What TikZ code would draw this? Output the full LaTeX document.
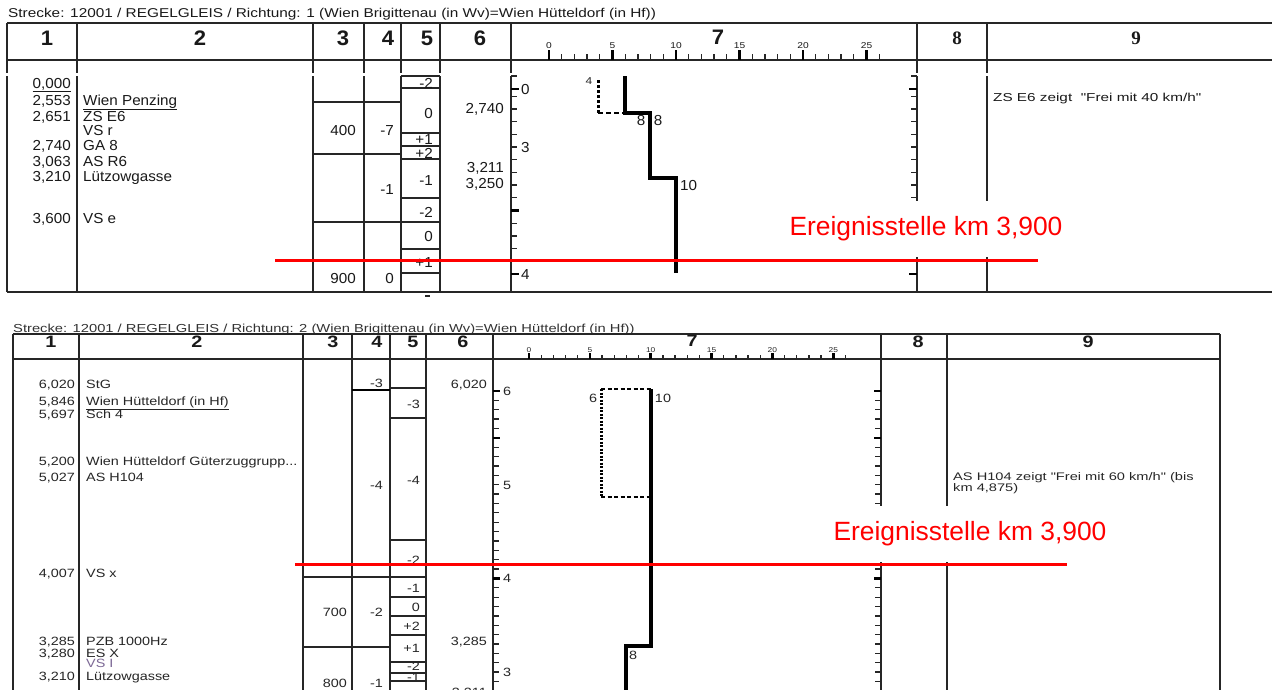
\documentclass[tikz,border=0pt]{standalone}
\usepackage{graphicx}
\usepackage{fontspec}
\setmainfont{Liberation Sans}
\newfontfamily\fa[FakeStretch=1.05]{Liberation Sans}
\newfontfamily\fb[FakeStretch=1.2]{Liberation Sans}
\newfontfamily\fc[FakeStretch=1.27]{Liberation Sans}
\newfontfamily\fd[FakeStretch=1.33]{Liberation Sans}
\newfontfamily\fser{Liberation Serif}
\begin{document}
\begin{tikzpicture}[x=1pt,y=-1pt,
  tbl/.style={line width=1.8pt,black!85},
  tk/.style={line width=1.3pt,black!85},
  tkb/.style={line width=2.6pt,black},
  prof/.style={line width=3.2pt,black},
  redline/.style={red,line width=3pt},
  redlab/.style={fill=white,text=red,inner xsep=8pt,inner ysep=16pt,font=\fontsize{26.4}{28}\selectfont},
  ra/.style={anchor=base east,inner sep=0pt,text=black!90,font=\fa\fontsize{14.5}{16}\selectfont,yshift=-5.2pt},
  la/.style={anchor=base west,inner sep=0pt,text=black!90,font=\fa\fontsize{14.5}{16}\selectfont,yshift=-5.2pt},
  ca/.style={anchor=base,inner sep=0pt,text=black!90,font=\fa\fontsize{14.5}{16}\selectfont,yshift=-5.2pt},
  rb/.style={anchor=base east,inner sep=0pt,text=black!85,font=\fb\fontsize{12}{13}\selectfont,yshift=-4.3pt},
  lb/.style={anchor=base west,inner sep=0pt,text=black!85,font=\fb\fontsize{12}{13}\selectfont,yshift=-4.3pt},
  cb/.style={anchor=base,inner sep=0pt,text=black!85,font=\fb\fontsize{12}{13}\selectfont,yshift=-4.3pt},
  hA/.style={anchor=base,inner sep=0pt,text=black!90,font=\fa\bfseries\fontsize{21}{22}\selectfont,yshift=-7.5pt},
  hS/.style={anchor=base,inner sep=0pt,text=black!90,font=\fser\bfseries\fontsize{19}{20}\selectfont,yshift=-6.3pt},
  hB/.style={anchor=base,inner sep=0pt,text=black!90,font=\fb\bfseries\fontsize{16.5}{17}\selectfont,yshift=-5.9pt},
  sA/.style={anchor=base,inner sep=0pt,text=black!90,font=\fb\fontsize{8.5}{9}\selectfont,yshift=-3pt},
  sB/.style={anchor=base,inner sep=0pt,text=black!85,font=\fb\fontsize{7}{8}\selectfont,yshift=-2.5pt},
  nA/.style={anchor=base west,inner sep=0pt,text=black!90,font=\fd\fontsize{11.5}{12}\selectfont,yshift=-4.1pt},
  nB/.style={anchor=base west,inner sep=0pt,text=black!85,font=\fd\fontsize{11}{11}\selectfont,yshift=-3.9pt}
]
\fill[white] (0,0) rectangle (1272,689);
\useasboundingbox (0,0) rectangle (1272,689);

%================ TOP TABLE ================
\node[anchor=base west,inner sep=0pt,text=black!90,font=\fb\fontsize{12.8}{13}\selectfont,yshift=-4.6pt] (ttitle) at (8,13)
  {Strecke: 12001 / REGELGLEIS / Richtung: 1 (Wien Brigittenau (in Wv)=Wien Hütteldorf (in Hf))};

\draw[tbl] (7,23) -- (1272,23) (7,60) -- (1272,60) (7,292) -- (1272,292);
\foreach \x in {7,77,313,364,401,440,511,917,987}{
  \draw[tbl] (\x,23) -- (\x,73);
  \draw[tbl] (\x,76) -- (\x,292);
}
% columns 3/4 cells
\draw[tbl] (313,102) -- (401,102) (313,154) -- (401,154) (313,222) -- (401,222);
% column 5 cells
\foreach \y in {76,88,133,146,159,198,222,249,273}{\draw[tbl] (401,\y) -- (440,\y);}
\draw[tbl] (425,296) -- (430,296);

% header
\node[hA] (h1) at (47,38) {1};
\node[hA] (h2) at (200,38) {2};
\node[hA] (h3) at (343,38) {3};
\node[hA] (h4) at (388,38) {4};
\node[hA] (h5) at (427,38) {5};
\node[hA] (h6) at (480,38) {6};
\node[hA] (h7) at (718,37) {7};
\node[hS] (h8) at (957,38) {8};
\node[hS] (h9) at (1136,38) {9};

% speed axis
\foreach \i in {0,...,26}{\draw[tk] ({549+\i*12.7},54) -- ({549+\i*12.7},60);}
\foreach \i in {0,5,...,25}{
  \draw[tkb] ({549+\i*12.7},50) -- ({549+\i*12.7},60);
  \node[sA] (ta\i) at ({549+\i*12.7},45) {\i};
}

% km scales
\foreach \x/\d in {511/1,917/-1}{
  \draw[tk] (\x,76) -- ({\x+6*\d},76);
  \foreach \k in {0,...,14}{\draw[tk] (\x,{96.2+\k*12.7}) -- ({\x+6*\d},{96.2+\k*12.7});}
  \foreach \y in {89,210.5,274}{\draw[tkb] (\x,\y) -- ({\x+8*\d},\y);}
}
\node[la] (s0) at (521,89) {0};
\node[la] (s3) at (521,147) {3};
\node[la] (s4) at (521,274) {4};

% column 1 / 2
\node[ra] (a1) at (71,83) {\underline{0,000}};
\node[ra] (a2) at (71,100) {2,553};
\node[ra] (a3) at (71,116) {2,651};
\node[ra] (a4) at (71,145) {2,740};
\node[ra] (a5) at (71,161) {3,063};
\node[ra] (a6) at (71,176) {3,210};
\node[ra] (a7) at (71,218) {3,600};
\node[la] (b2) at (83,100) {\underline{Wien Penzing}};
\node[la] (b3) at (83,116) {ZS E6};
\node[la] (b3a) at (83,130) {VS r};
\node[la] (b4) at (83,145) {GA 8};
\node[la] (b5) at (83,161) {AS R6};
\node[la] (b6) at (83,176) {Lützowgasse};
\node[la] (b7) at (83,218) {VS e};

% columns 3/4
\node[ra] (c1) at (356,130) {400};
\node[ra] (d1) at (394,130) {-7};
\node[ra] (d2) at (394,189) {-1};
\node[ra] (c3) at (356,278) {900};
\node[ra] (d3) at (394,278) {0};

% column 5
\node[ra] (e1) at (433,83) {-2};
\node[ra] (e2) at (433,113) {0};
\node[ra] (e3) at (433,139) {+1};
\node[ra] (e4) at (433,153) {+2};
\node[ra] (e5) at (433,180) {-1};
\node[ra] (e6) at (433,212) {-2};
\node[ra] (e7) at (433,236) {0};
\node[ra] (e8) at (433,262) {+1};

% column 6
\node[ra] (f1) at (504,108) {2,740};
\node[ra] (f2) at (504,167) {3,211};
\node[ra] (f3) at (504,183) {3,250};

% speed profile
\draw[prof] (625,76) -- (625,113) -- (650,113) -- (650,178) -- (676,178) -- (676,273);
\draw[line width=3pt,dash pattern=on 2.5pt off 2.5pt] (598,80) -- (598,113);
\draw[line width=2.4pt,dash pattern=on 5pt off 3pt] (598,113) -- (625,113);
\node[cb,font=\fb\fontsize{10}{10}\selectfont,yshift=-3.6pt] (v1) at (589,77) {4};
\node[ca] (v2) at (641,120) {8};
\node[ca] (v3) at (658,120) {8};
\node[la] (v4) at (680,185) {10};

% column 9
\node[nA] (n1) at (993,97) {ZS E6 zeigt\ \ "Frei mit 40 km/h"};

% event marker
\node[redlab] (r1) at (926,229) {Ereignisstelle km 3,900};
\draw[redline] (275,260) -- (1038,260);

%================ BOTTOM TABLE ================
\node[anchor=base west,inner sep=0pt,text=black!80,font=\fc\fontsize{11.6}{12}\selectfont,yshift=-4.2pt] (btitle) at (13,328)
  {Strecke: 12001 / REGELGLEIS / Richtung: 2 (Wien Brigittenau (in Wv)=Wien Hütteldorf (in Hf))};

\draw[tbl] (13,334) -- (1220,334) (13,359) -- (1220,359);
\foreach \x in {13,79,303,352,390,426,493,881,947,1220}{\draw[tbl] (\x,334) -- (\x,695);}
% columns 3/4
\draw[line width=2.8pt] (352,390) -- (390,390);
\draw[tbl] (303,577) -- (426,577) (303,647) -- (390,647);
% column 5
\foreach \y in {388,418,540,597,616,635,662,673,681}{\draw[tbl] (390,\y) -- (426,\y);}

% header
\node[hB] (g1) at (51,342) {1};
\node[hB] (g2) at (197,342) {2};
\node[hB] (g3) at (333,342) {3};
\node[hB] (g4) at (377,342) {4};
\node[hB] (g5) at (413,342) {5};
\node[hB] (g6) at (463,342) {6};
\node[hB] (g7) at (692,341) {7};
\node[hB] (g8) at (918,342) {8};
\node[hB] (g9) at (1088,342) {9};

% speed axis
\foreach \i in {0,...,26}{\draw[tk] ({529+\i*12.17},355) -- ({529+\i*12.17},359);}
\foreach \i in {0,5,...,25}{
  \draw[tkb] ({529+\i*12.17},353) -- ({529+\i*12.17},359);
  \node[sB] (tb\i) at ({529+\i*12.17},350) {\i};
}

% km scales
\foreach \x/\d in {493/1,881/-1}{
  \foreach \k in {0,...,31}{\draw[tk] (\x,{391+\k*9.37}) -- ({\x+6*\d},{391+\k*9.37});}
  \foreach \k in {0,5,20}{\draw[tkb] (\x,{391+\k*9.37}) -- ({\x+7*\d},{391+\k*9.37});}
}
\node[lb] (q6) at (503,391) {6};
\node[lb] (q5) at (503,485) {5};
\node[lb] (q4) at (503,578) {4};
\node[lb] (q3) at (503,672) {3};

% column 1 / 2
\node[rb] (m1) at (75,384) {6,020};
\node[rb] (m2) at (75,401) {5,846};
\node[rb] (m3) at (75,414) {5,697};
\node[rb] (m4) at (75,461) {5,200};
\node[rb] (m5) at (75,477) {5,027};
\node[rb] (m6) at (75,573) {4,007};
\node[rb] (m7) at (75,641) {3,285};
\node[rb] (m8) at (75,653) {3,280};
\node[rb] (m9) at (75,676) {3,210};
\node[lb] (o1) at (86,384) {StG};
\node[lb] (o2) at (86,401) {\underline{Wien Hütteldorf (in Hf)}};
\node[lb] (o3) at (86,414) {Sch 4};
\node[lb] (o4) at (86,461) {Wien Hütteldorf Güterzuggrupp...};
\node[lb] (o5) at (86,477) {AS H104};
\node[lb] (o6) at (86,573) {VS x};
\node[lb] (o7) at (86,641) {PZB 1000Hz};
\node[lb] (o8) at (86,653) {ES X};
\node[lb,text={rgb,255:red,125;green,105;blue,150}] (o8a) at (86,663) {VS I};
\node[lb] (o9) at (86,676) {Lützowgasse};

% columns 3/4
\node[rb] (w1) at (383,383) {-3};
\node[rb] (w2) at (383,485) {-4};
\node[rb] (u1) at (347,612) {700};
\node[rb] (w3) at (383,612) {-2};
\node[rb] (u2) at (347,683) {800};
\node[rb] (w4) at (383,683) {-1};

% column 5
\node[rb] (p1) at (420,404) {-3};
\node[rb] (p2) at (420,480) {-4};
\node[rb] (p3) at (420,560) {-2};
\node[rb] (p4) at (420,588) {-1};
\node[rb] (p5) at (420,607) {0};
\node[rb] (p6) at (420,626) {+2};
\node[rb] (p7) at (420,648) {+1};
\node[rb] (p8) at (420,666) {-2};
\node[rb] (p9) at (420,677) {-1};

% column 6
\node[rb] (y1) at (487,384) {6,020};
\node[rb] (y2) at (487,641) {3,285};
\node[rb] (y3) at (487,692) {3,211};

% speed profile
\draw[line width=1.6pt,dash pattern=on 4pt off 2.5pt] (601,389) -- (651,389);
\draw[line width=1.6pt,dash pattern=on 4pt off 2.5pt] (601,497) -- (651,497);
\draw[line width=3pt,dash pattern=on 2pt off 1.5pt] (601,389) -- (601,497);
\draw[prof,line width=3.6pt] (651,389) -- (651,646) -- (626,646) -- (626,695);
\node[cb] (z1) at (593,398) {6};
\node[cb] (z2) at (663,398) {10};
\node[cb] (z3) at (633,655) {8};

% column 9
\node[nB] (n2) at (953,477) {AS H104 zeigt "Frei mit 60 km/h" (bis};
\node[nB] (n3) at (953,488) {km 4,875)};

% event marker
\node[redlab] (r2) at (970,534) {Ereignisstelle km 3,900};
\draw[redline] (295,564) -- (1067,564);
\end{tikzpicture}
\end{document}
